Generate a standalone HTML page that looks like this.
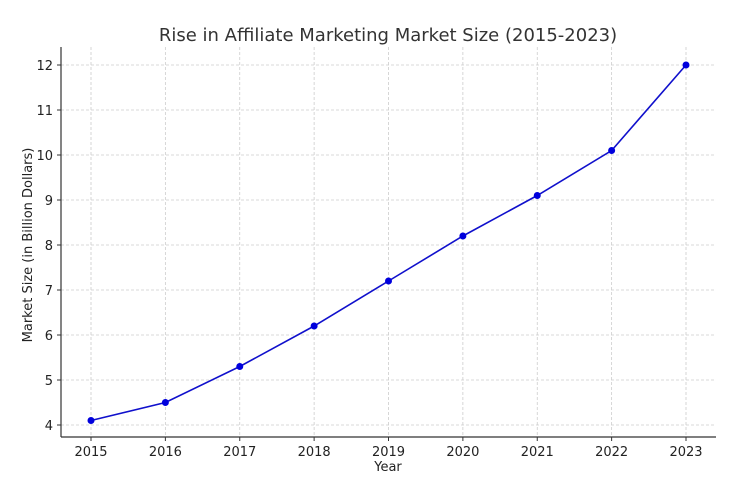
<!DOCTYPE html>
<html><head><meta charset="utf-8"><style>
body{margin:0;background:#fff;}
svg{display:block;font-family:"DejaVu Sans","Liberation Sans",sans-serif;}
</style></head><body>
<svg id="chart" width="739" height="488">
<text x="388" y="41" text-anchor="middle" font-size="18" fill="#333">Rise in Affiliate Marketing Market Size (2015-2023)</text>
<text x="388" y="471" text-anchor="middle" font-size="13" fill="#222">Year</text>
<text transform="translate(32,245) rotate(-90)" text-anchor="middle" font-size="13" fill="#222">Market Size (in Billion Dollars)</text>
<g id="grid"></g>
<g id="axes"></g>
<g id="series"></g>
</svg>
<script>
const years = [2015,2016,2017,2018,2019,2020,2021,2022,2023];
const marketSize = [4.1,4.5,5.3,6.2,7.2,8.2,9.1,10.1,12.0];
const yTicks = [4,5,6,7,8,9,10,11,12];

const L=61,R=716,T=47,B=437;
const xScale = i => 91 + i*(686-91)/(years.length-1);
const yScale = v => 425 - (v-4)*45;
const NS="http://www.w3.org/2000/svg";
function mk(tag,attrs,parent){const e=document.createElementNS(NS,tag);for(const k in attrs)e.setAttribute(k,attrs[k]);parent.appendChild(e);return e;}
const grid=document.getElementById('grid'),axes=document.getElementById('axes'),series=document.getElementById('series');

yTicks.forEach(t=>{
  const y=yScale(t);
  const g=mk('line',{x1:L,x2:R,y1:y,y2:y,stroke:'#ccc','stroke-width':0.8,'stroke-dasharray':'3,2'},grid);
  
  
  const tk=mk('line',{x1:L-4,x2:L,y1:y,y2:y,stroke:'#333'},axes);
  
  
  const tx=mk('text',{x:L-8,y:y+5,'text-anchor':'end','font-size':13,fill:'#222'},axes);
  tx.textContent=t;
  
  
});
years.forEach((yr,i)=>{
  const x=xScale(i);
  const g=mk('line',{x1:x,x2:x,y1:T,y2:B,stroke:'#ccc','stroke-width':0.8,'stroke-dasharray':'3,2'},grid);
  
  
  const tk=mk('line',{x1:x,x2:x,y1:B,y2:B+4,stroke:'#333'},axes);
  
  
  const tx=mk('text',{x:x,y:B+19,'text-anchor':'middle','font-size':13,fill:'#222'},axes);
  tx.textContent=yr;
  
  
});
const sp1=mk('line',{x1:L,x2:L,y1:T,y2:B,stroke:'#333','stroke-width':1.2},axes);


const sp2=mk('line',{x1:L,x2:R,y1:B,y2:B,stroke:'#333','stroke-width':1.2},axes);



const pts=marketSize.map((v,i)=>xScale(i)+','+yScale(v)).join(' ');
const pl=mk('polyline',{points:pts,fill:'none',stroke:'#1010cc','stroke-width':1.6},series);


marketSize.forEach((v,i)=>{
  const c=mk('circle',{cx:xScale(i),cy:yScale(v),r:3.5,fill:'#0000dd'},series);
  
  
});
</script>
</body></html>
